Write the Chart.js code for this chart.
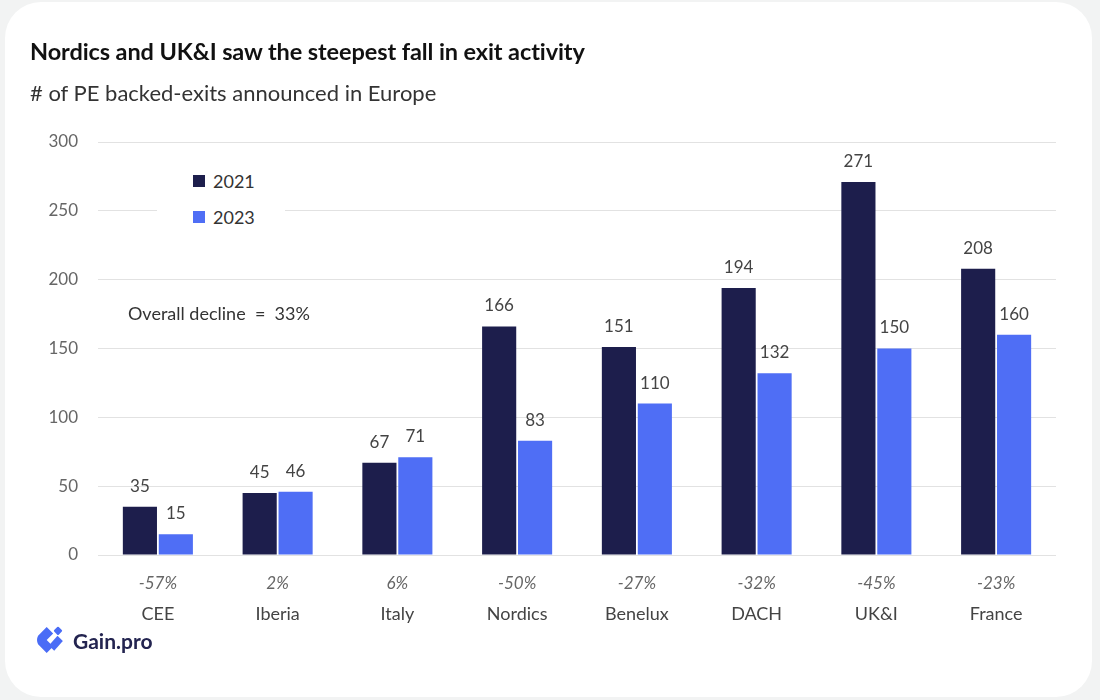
<!DOCTYPE html>
<html>
<head>
<meta charset="utf-8">
<script src="https://cdn.jsdelivr.net/npm/chart.js@4.4.1/dist/chart.umd.min.js"></script>
<style>
  html, body { margin: 0; padding: 0; }
  body { width: 1100px; height: 700px; background: #f2f3f3; position: relative; overflow: hidden; font-family: 'Lato', sans-serif; }
  .card { position: absolute; left: 5px; top: 2px; width: 1087px; height: 695px; background: #fff; border-radius: 36px; }
  #chart { position: absolute; left: 0; top: 0; }
  .title { position: absolute; left: 30px; top: 37px; font-size: 23.5px; font-weight: 700; color: #111; letter-spacing: -0.1px; }
  .subtitle { position: absolute; left: 30px; top: 79px; font-size: 22px; color: #333; }
  .legend { position: absolute; left: 157px; top: 161px; width: 92px; background: #fff; padding: 2px 0 2px 36px; font-size: 18px; color: #333; }
  .legend div { height: 36px; display: flex; align-items: center; }
  .legend span.sw { width: 12px; height: 12px; display: inline-block; margin-right: 8px; }
  .logo { position: absolute; left: 37px; top: 626px; display: flex; align-items: center; font-size: 21px; font-weight: 700; color: #232450; }
  .logo svg { margin-right: 8px; }
</style>
</head>
<body>
<div class="card"></div>
<canvas id="chart" width="1100" height="700"></canvas>
<div class="title">Nordics and UK&amp;I saw the steepest fall in exit activity</div>
<div class="subtitle"># of PE backed-exits announced in Europe</div>
<div class="legend">
  <div><span class="sw" style="background:#1d1e4c"></span>2021</div>
  <div><span class="sw" style="background:#4f6ef5"></span>2023</div>
</div>
<div class="logo">
  <svg width="28" height="28" viewBox="0 0 26 26">
    <path d="M9 1 L15 7 L9 13 L15 19 L9 25 L1 17 Q-1 13 1 9 Z" fill="#4a6cf6"/>
    <rect x="16.5" y="1.5" width="6" height="6" rx="1" transform="rotate(45 19.5 4.5)" fill="#4a6cf6"/>
    <path d="M19 9 L24 14 L16 23 L11 18 Z" fill="#4a6cf6"/>
  </svg>
  Gain.pro
</div>
<script>
/* ── data ── */
const regions  = ['CEE', 'Iberia', 'Italy', 'Nordics', 'Benelux', 'DACH', 'UK&I', 'France'];
const exits2021 = [35, 45, 67, 166, 151, 194, 271, 208];
const exits2023 = [15, 46, 71, 83, 110, 132, 150, 160];
const changes   = ['-57%', '2%', '6%', '-50%', '-27%', '-32%', '-45%', '-23%'];
const yTicks    = [0, 50, 100, 150, 200, 250, 300];
const overallNote = 'Overall decline  =  33%';

const FONT = "'Lato', sans-serif";

/* ── value labels above bars + overall note ── */
const valueLabels = {
  id: 'valueLabels',
  afterDatasetsDraw(chart) {
    const ctx = chart.ctx;
    ctx.save();
    ctx.font = `17px ${FONT}`;
    ctx.fillStyle = '#444';
    ctx.textAlign = 'center';
    ctx.textBaseline = 'bottom';
    chart.data.datasets.forEach((ds, i) => {
      chart.getDatasetMeta(i).data.forEach((bar, j) => {
        ctx.fillText(ds.data[j], bar.x, bar.y - 12);
      });
    });
    const y = chart.scales.y.getPixelForValue(175);
    ctx.font = `18px ${FONT}`;
    ctx.textAlign = 'left';
    ctx.textBaseline = 'middle';
    ctx.fillStyle = '#333';
    ctx.fillText(overallNote, chart.chartArea.left + 30, y);
    ctx.restore();
  },
};

new Chart(document.getElementById('chart'), {
  type: 'bar',
  data: {
    labels: regions,
    datasets: [
      { label: '2021', data: exits2021, backgroundColor: '#1d1e4c' },
      { label: '2023', data: exits2023, backgroundColor: '#4f6ef5' },
    ],
  },
  options: {
    responsive: false,
    animation: false,
    layout: { padding: { left: 0, right: 44, top: 142, bottom: 75 } },
    datasets: { bar: { categoryPercentage: 0.6, barPercentage: 0.95 } },
    plugins: { legend: { display: false }, tooltip: { enabled: false } },
    scales: {
      y: {
        min: 0, max: 300,
        afterFit: (s) => { s.width = 98; },
        afterBuildTicks: (s) => { s.ticks = yTicks.map((v) => ({ value: v })); },
        grid: { color: '#e2e2e2', drawTicks: false },
        border: { display: false },
        ticks: { padding: 20, color: '#666', font: { family: FONT, size: 17 } },
      },
      x: {
        weight: 2,
        afterFit: (s) => { s.height = 30; },
        grid: { display: false, tickLength: 0 },
        border: { display: false },
        ticks: { padding: 8, color: '#444', font: { family: FONT, size: 18 } },
      },
      pct: {
        type: 'category',
        position: 'bottom',
        weight: 1,
        labels: changes,
        afterFit: (s) => { s.height = 40; },
        grid: { display: false, tickLength: 0 },
        border: { display: false },
        ticks: { padding: 18, color: '#666', font: { family: FONT, size: 17, style: 'italic' } },
      },
    },
  },
  plugins: [valueLabels],
});
</script>
</body>
</html>
